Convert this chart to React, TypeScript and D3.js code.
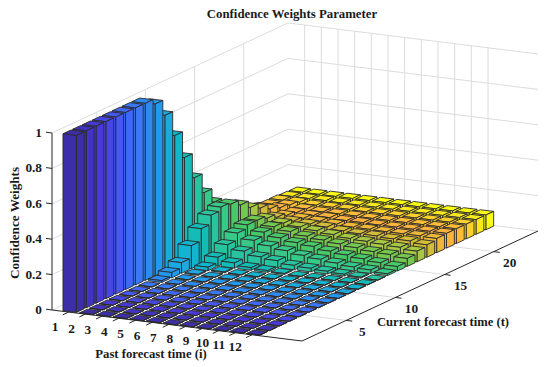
import React from "react";
import * as d3 from "d3";

// weights per past forecast time i, one value per current forecast time t = 1..24
const w1 = [1, 1, 1, 1, 1, 1, 1, 1, 0.97, 0.88, 0.74, 0.59, 0.45, 0.34, 0.26, 0.2, 0.16, 0.13, 0.11, 0.1, 0.09, 0.09, 0.085, 0.083];
const w2 = [0, 0, 0, 0, 0, 0, 0, 0.01, 0.03, 0.06, 0.13, 0.2, 0.25, 0.27, 0.26, 0.23, 0.19, 0.16, 0.13, 0.11, 0.1, 0.09, 0.085, 0.083];
const w3 = [0, 0, 0, 0, 0, 0, 0, 0, 0, 0.005, 0.02, 0.05, 0.095, 0.135, 0.155, 0.155, 0.14, 0.12, 0.105, 0.095, 0.09, 0.085, 0.085, 0.083];
const w4 = [0, 0, 0, 0, 0, 0, 0, 0, 0, 0, 0.005, 0.03, 0.07, 0.105, 0.125, 0.13, 0.125, 0.11, 0.1, 0.09, 0.085, 0.085, 0.083, 0.083];
const w5 = [0, 0, 0, 0, 0, 0, 0, 0, 0, 0, 0, 0.015, 0.05, 0.085, 0.105, 0.115, 0.115, 0.105, 0.095, 0.09, 0.085, 0.085, 0.083, 0.083];
const w6 = [0, 0, 0, 0, 0, 0, 0, 0, 0, 0, 0, 0.01, 0.04, 0.07, 0.09, 0.1, 0.105, 0.1, 0.09, 0.085, 0.085, 0.083, 0.083, 0.083];
const w7 = [0, 0, 0, 0, 0, 0, 0, 0, 0, 0, 0, 0.005, 0.025, 0.055, 0.08, 0.09, 0.095, 0.09, 0.085, 0.085, 0.083, 0.083, 0.083, 0.083];
const w8 = [0, 0, 0, 0, 0, 0, 0, 0, 0, 0, 0, 0, 0.02, 0.045, 0.065, 0.08, 0.085, 0.085, 0.085, 0.083, 0.083, 0.083, 0.083, 0.083];
const w9 = [0, 0, 0, 0, 0, 0, 0, 0, 0, 0, 0, 0, 0.015, 0.035, 0.055, 0.07, 0.08, 0.085, 0.083, 0.083, 0.083, 0.083, 0.083, 0.083];
const w10 = [0, 0, 0, 0, 0, 0, 0, 0, 0, 0, 0, 0, 0.01, 0.025, 0.045, 0.06, 0.075, 0.08, 0.083, 0.083, 0.083, 0.083, 0.083, 0.083];
const w11 = [0, 0, 0, 0, 0, 0, 0, 0, 0, 0, 0, 0, 0.005, 0.02, 0.035, 0.055, 0.07, 0.08, 0.083, 0.083, 0.083, 0.083, 0.083, 0.083];
const w12 = [0, 0, 0, 0, 0, 0, 0, 0, 0, 0, 0, 0, 0, 0.01, 0.025, 0.045, 0.06, 0.07, 0.08, 0.083, 0.083, 0.083, 0.083, 0.083];
const weights = [w1, w2, w3, w4, w5, w6, w7, w8, w9, w10, w11, w12];

const iTicks = d3.range(1, 13);
const tTicks = [5, 10, 15, 20];
const zTicks = [0, 0.2, 0.4, 0.6, 0.8, 1];

// colour per row t
const colourT = [1, 3, 5, 7, 9, 10, 11, 12, 13, 14, 15, 16, 17, 18, 19, 20, 21, 22, 23, 24];
const colours = ["#3c2ea8", "#4838d8", "#4558f0", "#3a78f8", "#2299ee", "#1ea8e0", "#12b5d0", "#14bcb8", "#28c4a0", "#38c888", "#48c868", "#74c850", "#a6c842", "#d2bc38", "#f0b838", "#ffb23c", "#ffbc38", "#fdd02c", "#f8e81c", "#f9fb10"];

const barW = 0.4;
const iDomain = [0, 15];
const tDomain = [0.5, 24.5];

// orthographic projection: each data axis moves the point along its own screen vector
const iX = d3.scaleLinear().domain(iDomain).range([0, 250]);
const iY = d3.scaleLinear().domain(iDomain).range([0, 31]);
const tX = d3.scaleLinear().domain(tDomain).range([0, 236]);
const tY = d3.scaleLinear().domain(tDomain).range([0, -110]);
const zY = d3.scaleLinear().domain([0, 1]).range([0, -177]);
const originX = 52;
const originY = 310;

const px = (i: number, t: number) => originX + iX(i) + tX(t);
const py = (i: number, t: number, z: number) => originY + iY(i) + tY(t) + zY(z);
const pt = (i: number, t: number, z: number): [number, number] => [px(i, t), py(i, t, z)];

const poly = d3.line().curve(d3.curveLinearClosed);
const seg = (a: [number, number], b: [number, number]) => d3.line()([a, b]) || "";

const parula = d3.scaleLinear<string>().domain(colourT).range(colours);

const GRID = "#dcdcdc";
const AXIS = "#262626";
const FONT = "'Liberation Serif', 'Times New Roman', serif";

function Bar({ i, t, z }: { i: number; t: number; z: number }) {
  const i0 = i - barW;
  const i1 = i + barW;
  const t0 = t - barW;
  const t1 = t + barW;
  const c = parula(t);
  const faces = [
    [pt(i0, t0, z), pt(i1, t0, z), pt(i1, t1, z), pt(i0, t1, z)],
    [pt(i1, t0, 0), pt(i1, t1, 0), pt(i1, t1, z), pt(i1, t0, z)],
    [pt(i0, t0, 0), pt(i1, t0, 0), pt(i1, t0, z), pt(i0, t0, z)],
  ];
  return (
    <g>
      {faces.map((f, k) => (
        <path key={k} d={poly(f) || ""} fill={c} stroke="#2a2a2a" strokeWidth={0.9} strokeLinejoin="round" />
      ))}
    </g>
  );
}

export default function App() {
  const iMax = iDomain[1];
  const iMin = iDomain[0];
  const tMin = tDomain[0];
  const tMax = tDomain[1];

  // far rows first so nearer bars paint over them
  const bars: { i: number; t: number; z: number }[] = [];
  for (let t = 24; t >= 1; t--) {
    for (let i = 1; i <= 12; i++) {
      bars.push({ i, t, z: weights[i - 1][t - 1] });
    }
  }

  return (
    <svg width={550} height={367} style={{ position: "absolute", left: 0, top: 0, background: "#fff" }}>
      {/* wall and floor grid */}
      <g stroke={GRID} strokeWidth={1} fill="none">
        {zTicks.map((z) => (
          <g key={z}>
            <path d={seg(pt(iMin, tMin, z), pt(iMin, tMax, z))} />
            <path d={seg(pt(iMin, tMax, z), pt(iMax, tMax, z))} />
          </g>
        ))}
        {iTicks.map((i) => (
          <g key={i}>
            <path d={seg(pt(i, tMax, 0), pt(i, tMax, 1))} />
            <path d={seg(pt(i, tMin, 0), pt(i, tMax, 0))} />
          </g>
        ))}
        {tTicks.map((t) => (
          <g key={t}>
            <path d={seg(pt(iMin, t, 0), pt(iMin, t, 1))} />
            <path d={seg(pt(iMin, t, 0), pt(iMax, t, 0))} />
          </g>
        ))}
      </g>

      {/* axes */}
      <g stroke={AXIS} strokeWidth={1} fill="none">
        <path d={seg(pt(iMin, tMin, 0), pt(iMin, tMin, 1))} />
        <path d={seg(pt(iMin, tMin, 0), pt(iMax, tMin, 0))} />
        <path d={seg(pt(iMax, tMin, 0), pt(iMax, tMax, 0))} />
        {zTicks.map((z) => (
          <path key={z} d={seg(pt(iMin, tMin, z), [px(iMin, tMin) - 6, py(iMin, tMin, z) - 0.8])} />
        ))}
        {iTicks.map((i) => (
          <path key={i} d={seg(pt(i, tMin, 0), pt(i, tMin - 0.6, 0))} />
        ))}
        {tTicks.map((t) => (
          <path key={t} d={seg(pt(iMax, t, 0), pt(iMax + 0.36, t, 0))} />
        ))}
      </g>

      {/* bars */}
      {bars.map((b) => (
        <Bar key={`${b.i}-${b.t}`} {...b} />
      ))}

      {/* text */}
      <g fontFamily={FONT} fontWeight="bold" fill="#1a1a1a" fontSize={13.3}>
        {zTicks.map((z) => (
          <text key={z} x={42} y={py(iMin, tMin, z)} dy="0.3em" textAnchor="end">
            {z}
          </text>
        ))}
        {iTicks.map((i) => (
          <text key={i} x={px(i, tMin) - 13.5 - (i - 1) * 0.3} y={py(i, tMin, 0) + 14 - (i - 1) * 0.25} dy="0.35em" textAnchor="middle">
            {i}
          </text>
        ))}
        {tTicks.map((t) => (
          <text key={t} x={px(iMax, t) + 16} y={py(iMax, t, 0) + 11} dy="0.35em" textAnchor="middle">
            {t}
          </text>
        ))}
        <text x={292} y={18} textAnchor="middle" fontSize={12.8}>
          Confidence Weights Parameter
        </text>
        <text transform="translate(19,223) rotate(-90)" textAnchor="middle" fontSize={13.2}>
          Confidence Weights
        </text>
        <text x={151} y={358} textAnchor="middle" fontSize={12.7}>
          Past forecast time (i)
        </text>
        <text x={443} y={326} textAnchor="middle" fontSize={12.6}>
          Current forecast time (t)
        </text>
      </g>
    </svg>
  );
}
